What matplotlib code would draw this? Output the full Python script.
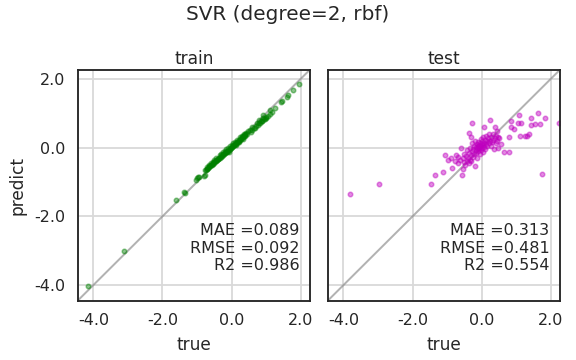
import matplotlib
matplotlib.use("Agg")
import matplotlib.pyplot as plt
import seaborn as sns

# ---------------------------------------------------------------------------
# Datos (true, predict)
# ---------------------------------------------------------------------------

train_true = [
    -4.14, -3.12, -1.62, -1.38, -1.36, -1.04, -1.00, -0.97, -0.95, -0.80, -0.77,
    -0.76, -0.74, -0.72, -0.70, -0.68, -0.66, -0.64, -0.62, -0.60, -0.58, -0.56,
    -0.54, -0.52, -0.50, -0.48, -0.46, -0.44, -0.42, -0.40, -0.38, -0.36, -0.34,
    -0.32, -0.30, -0.28, -0.26, -0.24, -0.22, -0.20, -0.18, -0.16, -0.14, -0.12,
    -0.10, -0.08, -0.06, -0.04, -0.02, 0.00, 0.02, 0.04, 0.06, 0.08, 0.10, 0.12,
    0.14, 0.16, 0.18, 0.20, 0.22, 0.24, 0.26, 0.28, 0.30, 0.32, 0.34, 0.36, 0.38,
    0.40, 0.42, 0.48, 0.52, 0.58, 0.60, 0.65, 0.70, 0.72, 0.75, 0.78, 0.80, 0.82,
    0.85, 0.88, 0.90, 0.92, 0.95, 0.98, 1.00, 1.05, 1.10, 1.12, 1.16, 1.25, 1.44,
    1.46, 1.59, 1.63, 1.78, 1.95,
    # puntos extra dentro de la nube central
    -0.65, -0.55, -0.45, -0.35, -0.25, -0.15, -0.05, 0.05, 0.15, 0.25, 0.35,
    -0.50, -0.30, -0.10, 0.10, 0.30, 0.45, 0.55, 0.68, 0.88, 0.97,
    -0.60, -0.40, -0.20, 0.00, 0.20, 0.40, -0.70, -0.08, 0.12, 0.32,
]
train_pred = [
    -4.02, -3.01, -1.52, -1.29, -1.31, -0.94, -0.88, -0.86, -0.85, -0.83, -0.81,
    -0.66, -0.65, -0.62, -0.61, -0.59, -0.56, -0.55, -0.53, -0.52, -0.50, -0.47,
    -0.47, -0.45, -0.43, -0.40, -0.40, -0.38, -0.36, -0.34, -0.33, -0.30, -0.29,
    -0.28, -0.25, -0.24, -0.22, -0.20, -0.19, -0.17, -0.15, -0.14, -0.12, -0.10,
    -0.09, -0.07, -0.05, -0.03, -0.02, 0.01, 0.02, 0.04, 0.06, 0.07, 0.10, 0.11,
    0.13, 0.15, 0.17, 0.19, 0.21, 0.23, 0.25, 0.27, 0.29, 0.31, 0.33, 0.35, 0.37,
    0.39, 0.41, 0.47, 0.50, 0.52, 0.60, 0.58, 0.64, 0.71, 0.66, 0.70, 0.80, 0.72,
    0.78, 0.76, 0.85, 0.95, 0.82, 0.88, 0.86, 0.92, 1.09, 0.98, 1.02, 1.14, 1.33,
    1.35, 1.48, 1.53, 1.67, 1.84,
    -0.50, -0.43, -0.30, -0.22, -0.12, -0.05, 0.05, 0.13, 0.22, 0.31, 0.38,
    -0.36, -0.20, -0.02, 0.15, 0.34, 0.38, 0.46, 0.58, 0.78, 0.84,
    -0.46, -0.32, -0.10, 0.06, 0.16, 0.33, -0.56, -0.12, 0.06, 0.24,
]

test_true = [
    -3.82, -2.96, -1.47, -1.35, -1.12, -1.05, -0.97, -0.88, -0.85, -0.78, -0.73,
    -0.70, -0.68, -0.62, -0.60, -0.58, -0.55, -0.54, -0.52, -0.50, -0.48, -0.45,
    -0.44, -0.42, -0.40, -0.38, -0.36, -0.36, -0.35, -0.33, -0.32, -0.32, -0.30,
    -0.28, -0.28, -0.27, -0.25, -0.24, -0.22, -0.21, -0.20, -0.19, -0.18, -0.17,
    -0.16, -0.15, -0.14, -0.13, -0.12, -0.11, -0.10, -0.09, -0.08, -0.07, -0.06,
    -0.05, -0.04, -0.03, -0.02, -0.01, 0.00, 0.01, 0.02, 0.03, 0.04, 0.05, 0.06,
    0.06, 0.08, 0.09, 0.10, 0.12, 0.13, 0.15, 0.16, 0.18, 0.20, 0.22, 0.23, 0.24,
    0.26, 0.28, 0.30, 0.32, 0.34, 0.36, 0.38, 0.38, 0.40, 0.42, 0.43, 0.44, 0.46,
    0.48, 0.50, 0.57, 0.64, 0.79, 0.79, 0.86, 0.86, 0.94, 1.05, 1.08, 1.10, 1.15,
    1.25, 1.30, 1.37, 1.42, 1.42, 1.54, 1.63, 1.68, 1.73, 1.84, 2.24,
]
test_pred = [
    -1.36, -1.05, -1.07, -0.81, -0.70, -0.22, -0.35, -0.30, -0.58, -0.40, -0.22,
    -0.45, -0.28, -0.35, -0.01, -0.79, -0.30, -0.63, -0.42, -0.18, -0.52, -0.25,
    -0.38, -0.08, -0.30, -0.45, 0.42, -0.15, -0.35, -0.02, -0.22, 0.30, -0.40,
    -0.10, 0.71, 0.12, -0.28, -0.05, 0.05, -0.18, -0.54, 0.20, -0.08, 0.02,
    -0.15, 0.10, -0.02, -0.30, 0.05, -0.10, 0.15, 0.00, -0.05, 0.08, -0.20,
    0.03, 0.12, -0.08, 0.25, 0.05, -0.02, 0.10, 0.18, -0.12, 0.07, 0.30, 0.02,
    0.59, 0.14, -0.05, 0.22, 0.10, 0.35, 0.05, 0.18, 0.28, 0.12, 0.40, 0.81, 0.20,
    0.05, 0.30, 0.15, 0.38, 0.22, -0.05, 0.28, 0.59, 0.12, 0.35, 0.47, 0.20, -0.02,
    0.30, 0.28, 0.11, -0.12, -0.12, 0.31, 0.78, 0.61, 0.55, 0.71, 0.95, 0.33, 0.70,
    0.33, 0.35, 0.39, 0.85, 0.67, 0.68, 1.00, 0.68, -0.78, 0.87, 0.71,
]

train_metrics = ("0.089", "0.092", "0.986")
test_metrics = ("0.313", "0.481", "0.554")

lims = (-4.45, 2.26)
ticks = [-4.0, -2.0, 0.0, 2.0]


def _panel(ax, x, y, color, title, metrics):
    ax.plot(lims, lims, color="gray", alpha=0.6, lw=2, zorder=1)
    ax.scatter(x, y, s=20, color=color, alpha=0.45, zorder=2)
    ax.set_xlim(lims)
    ax.set_ylim(lims)
    ax.set_xticks(ticks)
    ax.set_yticks(ticks)
    ax.xaxis.set_major_formatter(matplotlib.ticker.FormatStrFormatter("%.1f"))
    ax.yaxis.set_major_formatter(matplotlib.ticker.FormatStrFormatter("%.1f"))
    ax.grid(True, color=".85", lw=1.8)
    ax.set_axisbelow(True)
    ax.set_title(title, fontsize=17)
    ax.set_xlabel("true", fontsize=17, labelpad=8)
    txt = "MAE =%s\nRMSE =%s\nR2 =%s" % metrics
    ax.text(0.955, 0.12, txt, transform=ax.transAxes, ha="right", va="bottom",
            multialignment="right", fontsize=16, color=".15", linespacing=1.2)


sns.set_theme(context="talk", style="white", color_codes=False)
plt.rcParams["font.family"] = ["DejaVu Sans"]

fig, axes = plt.subplots(1, 2, figsize=(8, 5), dpi=72, sharey=True)
_panel(axes[0], train_true, train_pred, (0.0, 0.5, 0.0), "train", train_metrics)
_panel(axes[1], test_true, test_pred, (0.75, 0.0, 0.75), "test", test_metrics)
axes[0].set_ylabel("predict", fontsize=17, labelpad=8)
for ax in axes:
    ax.tick_params(labelsize=16)
fig.suptitle("SVR (degree=2, rbf)", fontsize=20, y=0.985)
fig.subplots_adjust(left=0.135, right=0.972, top=0.806, bottom=0.165, wspace=0.078)
fig.savefig("out.png", dpi=72)
